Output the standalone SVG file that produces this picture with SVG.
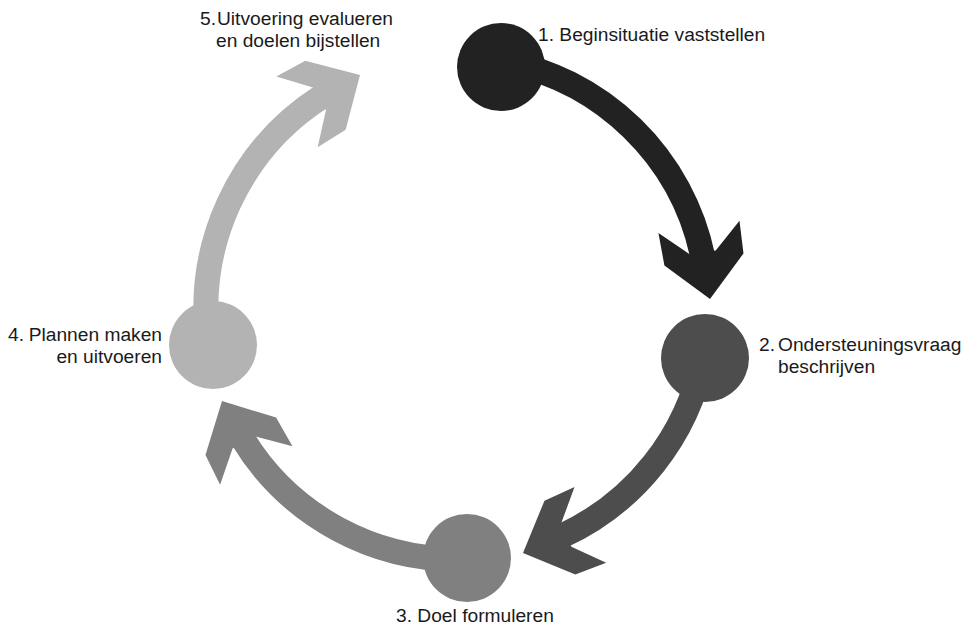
<svg xmlns="http://www.w3.org/2000/svg" width="974" height="629" viewBox="0 0 974 629">
<style>
.lbl{font-family:"Liberation Sans",Arial,sans-serif;font-size:19.2px;fill:#1a1a1a}
.shaft{fill:none;stroke-width:25}
</style>
<defs>
<polygon id="head" points="0,0 -40,40 -73,41 -47,13 -47,-13 -73,-41 -40,-40"/>
</defs>
<rect width="974" height="629" fill="#ffffff"/>
<g id="connectors">
<path class="shaft" stroke="#222222" d="M500.6,60.8 A251,251 0 0,1 702.9,257.5"/>
<use href="#head" fill="#222222" transform="translate(710,299) rotate(81.3)"/>
<path class="shaft" stroke="#4d4d4d" d="M703.1,357.6 A251,251 0 0,1 561.9,536"/>
<use href="#head" fill="#4d4d4d" transform="translate(523,553) rotate(157.3)"/>
<path class="shaft" stroke="#808080" d="M467.1,558.8 A251,251 0 0,1 241.8,437.3"/>
<use href="#head" fill="#808080" transform="translate(222,401) rotate(242)"/>
<path class="shaft" stroke="#b3b3b3" d="M208.8,345.5 A251,251 0 0,1 322.5,96.1"/>
<use href="#head" fill="#b3b3b3" transform="translate(360,75) rotate(-30.3)"/>
</g>
<g id="node1">
<circle cx="501" cy="67" r="44" fill="#222222"/>
<text class="lbl" x="538" y="41">1. Beginsituatie vaststellen</text>
</g>
<g id="node2">
<circle cx="705" cy="358" r="44" fill="#4d4d4d"/>
<text class="lbl" y="351"><tspan x="759">2.</tspan><tspan x="778">Ondersteuningsvraag</tspan></text>
<text class="lbl" x="778" y="373">beschrijven</text>
</g>
<g id="node3">
<circle cx="467" cy="558" r="44" fill="#808080"/>
<text class="lbl" x="396" y="622">3. Doel formuleren</text>
</g>
<g id="node4">
<circle cx="213" cy="345" r="44" fill="#b3b3b3"/>
<text class="lbl" y="341"><tspan x="8">4.</tspan><tspan x="162" text-anchor="end">Plannen maken</tspan></text>
<text class="lbl" x="162" y="363" text-anchor="end">en uitvoeren</text>
</g>
<g id="node5">
<text class="lbl" y="25"><tspan x="200">5.</tspan><tspan x="217">Uitvoering evalueren</tspan></text>
<text class="lbl" x="216" y="47">en doelen bijstellen</text>
</g>
</svg>
